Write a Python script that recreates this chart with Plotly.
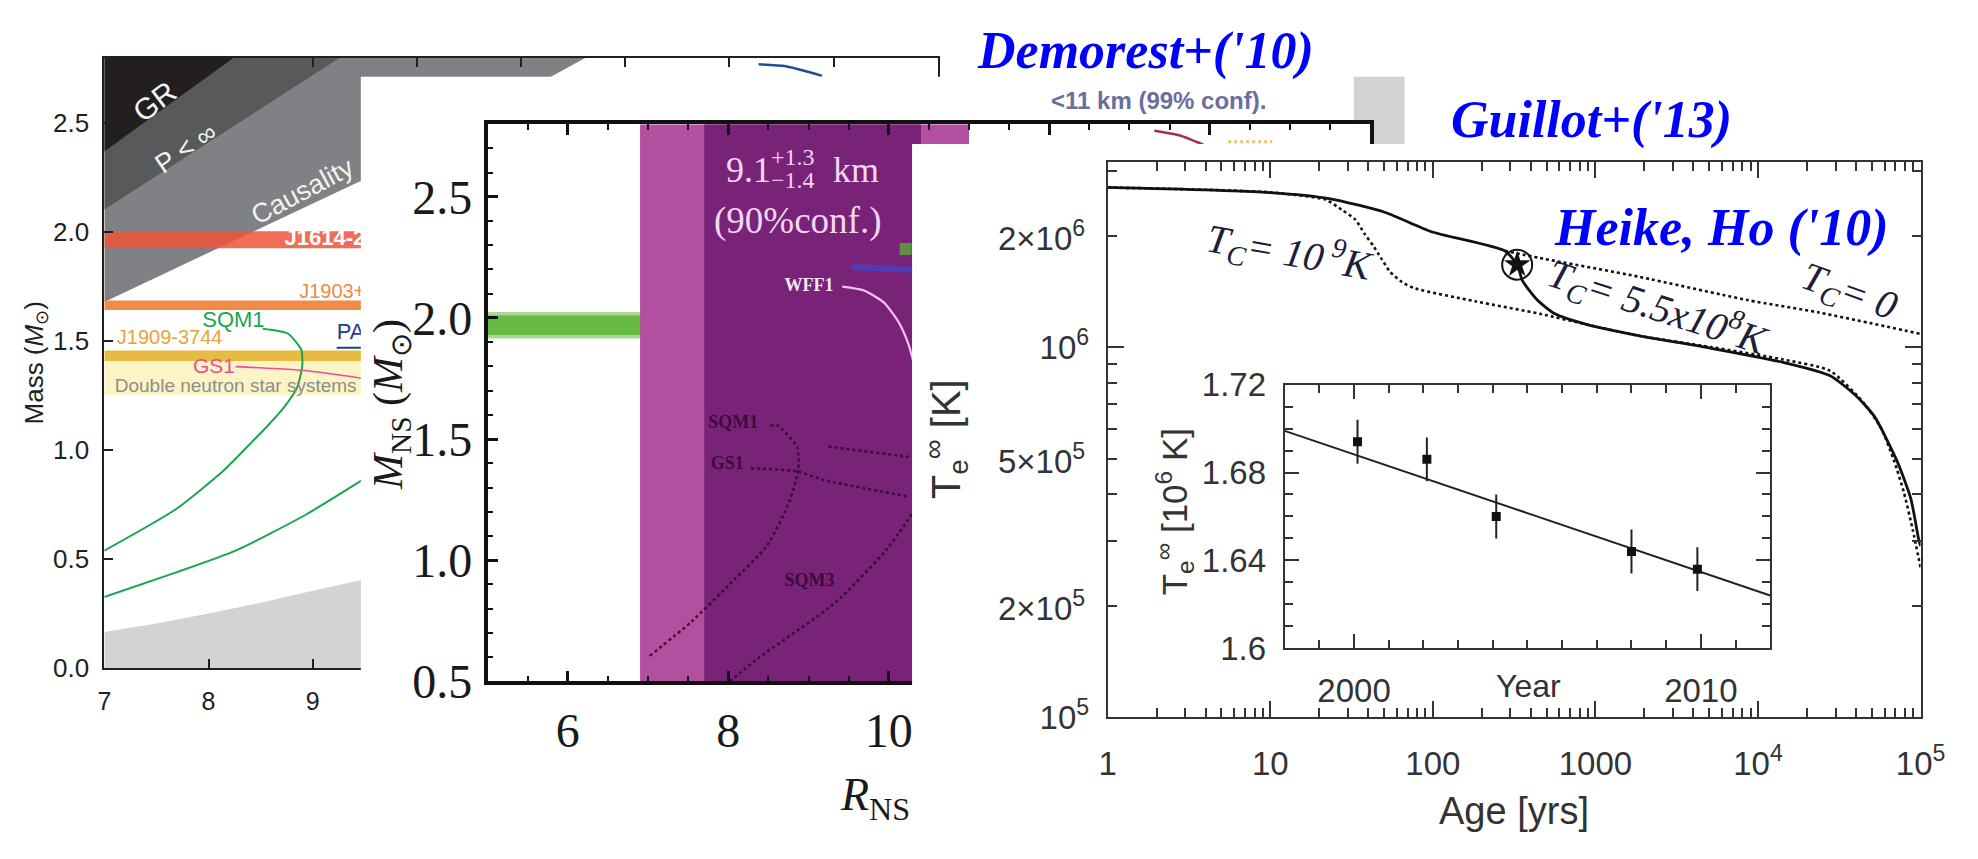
import math
import plotly.graph_objects as go

W, H = 1978, 859


def fx(p):
    return p / W


def fy(p):
    return 1 - p / H


SANS = "Liberation Sans"
SERIF = "Liberation Serif"

# ---------------- Demorest et al. (2010): mass-radius constraints ----------------
dem_R_range = [7.0, 15.0]
dem_M_range = [0.0, 2.8]
dem_gr_R = [7.0, 8.24]
dem_gr_M = [2.37, 2.80]
dem_buch_R = [7.0, 9.26]
dem_buch_M = [2.104, 2.80]
dem_caus_R = [7.0, 9.46, 11.62]
dem_caus_M = [1.68, 2.235, 2.80]
dem_rot_R = [7.0, 7.5, 8.0, 8.5, 9.0, 9.5, 10.0]
dem_rot_M = [0.165, 0.205, 0.250, 0.300, 0.355, 0.408, 0.465]

dem_band_lo = [1.252, 1.409, 1.643, 1.926]
dem_band_hi = [1.409, 1.457, 1.687, 2.004]
dem_band_col = ["#fcf4c4", "#e7bb42", "#f08c48", "rgba(238,86,58,0.86)"]

dem_sqm1_R = [7.0, 7.69, 8.14, 8.42, 8.57, 8.73, 8.85, 8.90, 8.89, 8.76, 8.52]
dem_sqm1_M = [0.539, 0.730, 0.904, 1.039, 1.113, 1.200, 1.287, 1.387, 1.461, 1.535, 1.557]
dem_sqm3_R = [7.0, 7.69, 8.26, 8.92, 9.47]
dem_sqm3_M = [0.326, 0.439, 0.539, 0.700, 0.861]
dem_gs1_R = [8.26, 8.92, 9.47]
dem_gs1_M = [1.383, 1.365, 1.330]
dem_pal1_R = [9.23, 9.60]
dem_pal1_M = [1.470, 1.470]
dem_ms_R = [13.28, 13.54, 13.89]
dem_ms_M = [2.770, 2.761, 2.717]

dem_xtick = [7, 8, 9, 10, 11, 12, 13, 14, 15]
dem_xtext = ["7", "8", "9", "", "", "", "", "", ""]

dem_lbl_text = ["<b>J1614-2230</b>", "J1903+0327", "J1909-3744", "SQM1", "GS1", "PAL1",
                "Double neutron star systems"]
dem_lbl_R = [8.73, 8.87, 7.12, 7.94, 7.85, 9.23, 7.10]
dem_lbl_M = [1.965, 1.722, 1.509, 1.591, 1.378, 1.535, 1.290]
dem_lbl_col = ["#ffffff", "#ef8a45", "#e6a53a", "#1aa64f", "#ea4f96", "#1d3c8c", "#8d8d8d"]
dem_lbl_size = [22, 20, 20, 22, 21, 22, 19]

# ---------------- Guillot et al. (2013): qLMXB radius ----------------
gui_R_range = [5.0, 16.0]
gui_M_range = [0.5, 2.8]
gui_R_med, gui_R_plus, gui_R_minus = 9.1, 1.3, 1.4
gui_R99 = [6.9, 11.0]
gui_j1614 = [1.93, 2.01]
gui_j1614_halo = [1.915, 2.025]

gui_xtick = [6, 8, 10, 12, 14, 16]
gui_xtext = ["6", "8", "10", "", "", ""]

gui_sqm1_R = [7.02, 7.54, 8.02, 8.48, 8.76, 8.87, 8.86, 8.62, 8.53]
gui_sqm1_M = [0.605, 0.746, 0.902, 1.059, 1.242, 1.371, 1.465, 1.555, 1.555]
gui_gs1_R = [8.28, 8.86, 9.18, 10.26]
gui_gs1_M = [1.379, 1.367, 1.332, 1.262]
gui_eos_R = [9.25, 10.26]
gui_eos_M = [1.469, 1.426]
gui_sqm3_R = [8.02, 8.35, 9.33, 9.98, 10.29]
gui_sqm3_M = [0.500, 0.590, 0.824, 1.047, 1.191]
gui_wff1_R = [9.42, 9.69, 9.94, 10.12, 10.25, 10.33]
gui_wff1_M = [2.129, 2.113, 2.063, 1.984, 1.887, 1.789]
gui_blue_R = [9.53, 10.30]
gui_blue_M = [2.210, 2.200]
gui_red_R = [13.31, 13.62, 13.92]
gui_red_M = [2.773, 2.754, 2.715]
gui_yel_R = [14.23, 14.78]
gui_yel_M = [2.727, 2.727]

gui_lbl_text = ["<b>SQM1</b>", "<b>GS1</b>", "<b>SQM3</b>", "<b>WFF1</b>"]
gui_lbl_R = [7.75, 7.78, 8.70, 8.70]
gui_lbl_M = [1.565, 1.395, 0.910, 2.130]
gui_lbl_col = ["#3b0c3b", "#3b0c3b", "#3b0c3b", "#f6e6f6"]

# ---------------- Heinke & Ho (2010): Cas A cooling ----------------
hh_age_solid = [1, 9.4, 23, 51, 98, 277, 330, 356, 439, 564, 891, 1840, 5150, 14260,
                27800, 39900, 52000, 71600, 87100, 97300, 100000]
hh_T_solid = [2.70e6, 2.62e6, 2.52e6, 2.31e6, 2.05e6, 1.82e6, 1.67e6, 1.51e6, 1.34e6,
              1.23e6, 1.15e6, 1.074e6, 9.93e5, 9.10e5, 8.37e5, 7.40e5, 6.50e5, 4.93e5,
              3.90e5, 3.03e5, 2.90e5]
hh_age_tc9 = [1, 9.9, 22, 27.5, 33.4, 37.8, 42.9, 48, 54.4, 64.3, 78, 182, 457, 891, 1840,
              5150, 14260, 27800, 45200, 57300, 68700, 78900, 89500, 100000]
hh_T_tc9 = [2.70e6, 2.62e6, 2.50e6, 2.35e6, 2.21e6, 2.03e6, 1.88e6, 1.74e6, 1.60e6, 1.50e6,
            1.44e6, 1.33e6, 1.23e6, 1.15e6, 1.074e6, 1.0e6, 9.26e5, 8.63e5, 7.03e5, 6.03e5,
            4.93e5, 4.06e5, 3.21e5, 2.54e5]
hh_age_tc0 = [277, 457, 1840, 8620, 23800, 100000]
hh_T_tc0 = [1.82e6, 1.74e6, 1.55e6, 1.34e6, 1.24e6, 1.086e6]
hh_casA_age = [330]
hh_casA_T = [1.67e6]

hh_xticks = [1, 10, 100, 1000, 1e4, 1e5]
hh_xtext = ["1", "10", "100", "1000", "10<sup>4</sup>", "10<sup>5</sup>"]
hh_yticks = [1e5, 1e6]
hh_ytext = ["10<sup>5</sup>", "10<sup>6</sup>"]
hh_ylabels_extra = [2e5, 5e5, 2e6]
hh_ytext_extra = ["2×10<sup>5</sup>", "5×10<sup>5</sup>", "2×10<sup>6</sup>"]

# inset: Chandra temperatures of Cas A
ins_year = [2000.1, 2002.1, 2004.1, 2008.0, 2009.9]
ins_T = [1.694, 1.686, 1.660, 1.644, 1.636]
ins_err = [0.010, 0.010, 0.010, 0.010, 0.010]
ins_fit_year = [1998.0, 2012.0]
ins_fit_T = [1.699, 1.624]

fig = go.Figure()


def add(tr, k):
    tr.xaxis = "x" if k == 1 else "x%d" % k
    tr.yaxis = "y" if k == 1 else "y%d" % k
    tr.hoverinfo = "skip"
    fig.add_trace(tr)


def poly(xs, ys, color, k):
    add(go.Scatter(x=xs, y=ys, mode="lines", fill="toself", fillcolor=color,
                   line=dict(width=0, color=color)), k)


def line(xs, ys, color, width, k, dash="solid"):
    add(go.Scatter(x=xs, y=ys, mode="lines",
                   line=dict(color=color, width=width, dash=dash, shape="spline", smoothing=0.6)), k)


# ----- panel 1 (subplot 1) -----
r0, r1 = dem_R_range
m1 = dem_M_range[1]
poly(dem_rot_R + [dem_rot_R[-1], dem_rot_R[0]], dem_rot_M + [0, 0], "#d1d3d4", 1)
poly(dem_caus_R + [r0], dem_caus_M + [m1], "#808184", 1)
poly(dem_buch_R + [r0], dem_buch_M + [m1], "#58595b", 1)
poly(dem_gr_R + [r0], dem_gr_M + [m1], "#231f20", 1)
for lo, hi, col in zip(dem_band_lo, dem_band_hi, dem_band_col):
    poly([r0, r1, r1, r0], [lo, lo, hi, hi], col, 1)
line(dem_sqm1_R, dem_sqm1_M, "#1aa64f", 2, 1)
line(dem_sqm3_R, dem_sqm3_M, "#1aa64f", 2, 1)
line(dem_gs1_R, dem_gs1_M, "#ea4f96", 1.6, 1)
line(dem_pal1_R, dem_pal1_M, "#1d3c8c", 2, 1)
line(dem_ms_R, dem_ms_M, "#1f4d90", 2.5, 1)
add(go.Scatter(x=dem_lbl_R, y=dem_lbl_M, mode="text", text=dem_lbl_text,
               textposition="middle right",
               textfont=dict(family=SANS, size=dem_lbl_size, color=dem_lbl_col)), 1)

# ----- white card of the second figure (subplot 2) -----
card = [0, 1, 1, 0]
poly(card, [0, 0, 1, 1], "#ffffff", 2)

# ----- panel 2 (subplot 3) -----
g0, g1 = gui_R_range
gm0, gm1 = gui_M_range
poly([g0, g1, g1, g0], [gui_j1614_halo[0]] * 2 + [gui_j1614_halo[1]] * 2, "#a9d794", 3)
poly([g0, g1, g1, g0], [gui_j1614[0]] * 2 + [gui_j1614[1]] * 2, "#67bb44", 3)
poly([gui_R99[0], gui_R99[1], gui_R99[1], gui_R99[0]], [gm0, gm0, gm1, gm1], "#b24f9e", 3)
rlo, rhi = gui_R_med - gui_R_minus, gui_R_med + gui_R_plus
poly([rlo, rhi, rhi, rlo], [gm0, gm0, gm1, gm1], "#782378", 3)
line(gui_sqm1_R, gui_sqm1_M, "#3a0a3a", 2.5, 3, "dot")
line(gui_gs1_R, gui_gs1_M, "#3a0a3a", 2.5, 3, "dot")
line(gui_eos_R, gui_eos_M, "#3a0a3a", 2.5, 3, "dot")
line(gui_sqm3_R, gui_sqm3_M, "#3a0a3a", 2.5, 3, "dot")
line(gui_wff1_R, gui_wff1_M, "#f4c4f0", 2.2, 3)
line(gui_blue_R, gui_blue_M, "rgba(60,70,210,0.65)", 6, 3)
line(gui_red_R, gui_red_M, "#a3304c", 2.5, 3)
line(gui_yel_R, gui_yel_M, "#e3c46a", 3, 3, "dot")
add(go.Scatter(x=[10.21], y=[2.285], mode="markers",
               marker=dict(symbol="square", size=12, color="#5f8f45")), 3)
add(go.Scatter(x=gui_lbl_R, y=gui_lbl_M, mode="text", text=gui_lbl_text,
               textposition="middle right",
               textfont=dict(family=SERIF, size=18, color=gui_lbl_col)), 3)

# ----- white card of the third figure (subplot 4) -----
poly(card, [0, 0, 1, 1], "#ffffff", 4)

# ----- panel 3 (subplot 5) -----
line(hh_age_tc9, hh_T_tc9, "#111111", 2.6, 5, "dot")
line(hh_age_tc0, hh_T_tc0, "#111111", 2.6, 5, "dot")
line(hh_age_solid, hh_T_solid, "#111111", 2.8, 5)
add(go.Scatter(x=hh_casA_age, y=hh_casA_T, mode="markers",
               marker=dict(symbol="circle-open", size=30, color="#111111", line=dict(width=2))), 5)
add(go.Scatter(x=hh_casA_age, y=hh_casA_T, mode="markers",
               marker=dict(symbol="star", size=20, color="#111111")), 5)

# ----- inset (subplot 6) -----
add(go.Scatter(x=ins_fit_year, y=ins_fit_T, mode="lines", line=dict(color="#222222", width=2)), 6)
add(go.Scatter(x=ins_year, y=ins_T, mode="markers",
               marker=dict(symbol="square", size=9, color="#111111"),
               error_y=dict(type="data", array=ins_err, color="#222222", thickness=2, width=0)), 6)

# ---------------- axes ----------------
def hidden(dom_x, dom_y, k):
    return {
        "xaxis%d" % k: dict(domain=dom_x, range=[0, 1], visible=False, anchor="y%d" % k,
                            fixedrange=True),
        "yaxis%d" % k: dict(domain=dom_y, range=[0, 1], visible=False, anchor="x%d" % k,
                            fixedrange=True),
    }


c1 = "#231f20"
axes = dict(
    xaxis=dict(domain=[fx(97), fx(945)], range=dem_R_range, anchor="y",
               tickvals=dem_xtick, ticktext=dem_xtext,
               ticks="inside", ticklen=9, tickwidth=1.6, tickcolor=c1,
               showline=True, linewidth=2, linecolor=c1, mirror="ticks",
               showgrid=False, zeroline=False, ticklabelstandoff=10,
               tickfont=dict(family=SANS, size=25, color=c1)),
    yaxis=dict(domain=[fy(686), fy(42)], range=dem_M_range, anchor="x",
               tickvals=[0, 0.5, 1.0, 1.5, 2.0, 2.5],
               ticktext=["0.0", "0.5", "1.0", "1.5", "2.0", "2.5"],
               ticks="inside", ticklen=9, tickwidth=1.6, tickcolor=c1,
               showline=True, linewidth=2, linecolor=c1, mirror="ticks",
               showgrid=False, zeroline=False, ticklabelstandoff=8,
               tickfont=dict(family=SANS, size=26, color=c1)),
    xaxis3=dict(domain=[fx(487), fx(1385)], range=gui_R_range, anchor="y3",
                tickvals=gui_xtick, ticktext=gui_xtext, ticks="inside", ticklen=11,
                tickwidth=2.5, tickcolor="#111111",
                minor=dict(dtick=0.5, tick0=5, ticks="inside", ticklen=6,
                           tickwidth=2, tickcolor="#111111"),
                showline=True, linewidth=3.5, linecolor="#111111", mirror="ticks",
                showgrid=False, zeroline=False, ticklabelstandoff=4,
                tickfont=dict(family=SERIF, size=48, color="#1a1a1a")),
    yaxis3=dict(domain=[fy(700), fy(112)], range=gui_M_range, anchor="x3",
                tickvals=[0.5, 1.0, 1.5, 2.0, 2.5], ticktext=["0.5", "1.0", "1.5", "2.0", "2.5"],
                ticks="inside", ticklen=11, tickwidth=2.5, tickcolor="#111111",
                minor=dict(dtick=0.1, tick0=0.5, ticks="inside", ticklen=6, tickwidth=2,
                           tickcolor="#111111"),
                showline=True, linewidth=3.5, linecolor="#111111", mirror="ticks",
                showgrid=False, zeroline=False, ticklabelstandoff=2,
                tickfont=dict(family=SERIF, size=48, color="#1a1a1a")),
    xaxis5=dict(domain=[fx(1118), fx(1945)], type="log", range=[0, 5], anchor="y5",
                tickvals=hh_xticks, ticktext=hh_xtext, ticks="inside", ticklen=16, tickwidth=2,
                tickcolor="#333333",
                minor=dict(tickvals=[m * 10 ** d for d in range(0, 5) for m in range(2, 10)],
                           ticks="inside", ticklen=9, tickwidth=1.6, tickcolor="#333333"),
                showline=True, linewidth=2, linecolor="#333333", mirror="ticks",
                showgrid=False, zeroline=False, ticklabelstandoff=16,
                tickfont=dict(family=SANS, size=33, color="#333333")),
    yaxis5=dict(domain=[fy(738), fy(152)], type="log", range=[5, 6.5], anchor="x5",
                tickvals=hh_yticks, ticktext=hh_ytext, ticks="inside", ticklen=16, tickwidth=2,
                tickcolor="#333333",
                minor=dict(tickvals=[m * 10 ** d for d in range(5, 7) for m in range(2, 10)],
                           ticks="inside", ticklen=9, tickwidth=1.6, tickcolor="#333333"),
                showline=True, linewidth=2, linecolor="#333333", mirror="ticks",
                showgrid=False, zeroline=False, ticklabelstandoff=10,
                tickfont=dict(family=SANS, size=33, color="#333333")),
    xaxis6=dict(domain=[fx(1298), fx(1792)], range=[1998, 2012], anchor="y6",
                tickvals=[2000, 2010], ticks="inside", ticklen=14, tickwidth=2,
                tickcolor="#333333",
                minor=dict(dtick=1, tick0=1998, ticks="inside", ticklen=8, tickwidth=1.6,
                           tickcolor="#333333"),
                showline=True, linewidth=2, linecolor="#333333", mirror="ticks",
                showgrid=False, zeroline=False, ticklabelstandoff=12,
                tickfont=dict(family=SANS, size=33, color="#333333")),
    yaxis6=dict(domain=[fy(665), fy(387)], range=[1.6, 1.72], anchor="x6",
                tickvals=[1.6, 1.64, 1.68, 1.72], ticktext=["1.6", "1.64", "1.68", "1.72"],
                ticks="inside", ticklen=14, tickwidth=2, tickcolor="#333333",
                minor=dict(dtick=0.01, tick0=1.6, ticks="inside", ticklen=8, tickwidth=1.6,
                           tickcolor="#333333"),
                showline=True, linewidth=2, linecolor="#333333", mirror="ticks",
                showgrid=False, zeroline=False, ticklabelstandoff=10,
                tickfont=dict(family=SANS, size=33, color="#333333")),
)
axes.update(hidden([fx(358), fx(1368)], [0, fy(62)], 2))
axes.update(hidden([fx(919), 1.0], [0, fy(133)], 4))


def ann(text, x, y, size, color, family, angle=0, xanchor="center", yanchor="middle"):
    return dict(text=text, x=fx(x), y=fy(y), xref="paper", yref="paper", showarrow=False,
                font=dict(size=size, color=color, family=family), textangle=angle,
                xanchor=xanchor, yanchor=yanchor)


BLUE = "#0000ff"
INK = "#1b2038"
PINK = "#f3d6ef"
annotations = [
    # panel 1
    ann("Mass (<i>M</i><sub>⊙</sub>)", 27, 364, 26, c1, SANS, -90),
    ann("GR", 148, 88, 30, "#f2f2f2", SANS, -37),
    ann("P < ∞", 180, 137, 27, "#f2f2f2", SANS, -34),
    ann("Causality", 299, 183, 27, "#f2f2f2", SANS, -28),
    # panel 2
    ann("<i>M</i><sub>NS</sub> (<i>M</i><sub>⊙</sub>)", 388, 408, 42, "#1a1a1a", SERIF, -90),
    ann("<i>R</i><sub>NS</sub>", 919, 823, 46, "#1a1a1a", SERIF, 0, "right"),
    ann("9.1", 727, 160, 36, PINK, SERIF, 0, "left"),
    ann("+1.3", 773, 147, 24, PINK, SERIF, 0, "left"),
    ann("−1.4", 773, 171, 24, PINK, SERIF, 0, "left"),
    ann("km", 836, 160, 36, PINK, SERIF, 0, "left"),
    ann("(90%conf.)", 802, 214, 37, PINK, SERIF),
    ann("<b>&lt;11 km (99% conf).</b>", 1170, 87, 24, "#6a6e9e", SANS),
    # panel 3
    ann("T<sub>e</sub><sup>∞</sup> [K]", 953, 445, 40, "#333333", SANS, -90),
    ann("Age [yrs]", 1531, 837, 38, "#333333", SANS),
    ann("<i>T</i><sub><i>C</i></sub><i>= 10</i><sup><i> 9</i></sup><i>K</i>",
        1303, 247, 40, INK, SERIF, 10),
    ann("<i>T</i><sub><i>C</i></sub><i>= 5.5x10</i><sup><i>8</i></sup><i>K</i>",
        1678, 305, 40, INK, SERIF, 18),
    ann("<i>T</i><sub><i>C</i></sub><i>= 0</i>", 1872, 290, 40, INK, SERIF, 20),
    # inset
    ann("T<sub>e</sub><sup>∞</sup> [10<sup>6</sup> K]", 1186, 521, 35, "#333333", SANS, -90),
    ann("Year", 1546, 705, 32, "#333333", SANS),
    # references
    ann("<b><i>Demorest+('10)</i></b>", 1156, 35, 52, BLUE, SERIF),
    ann("<b><i>Guillot+('13)</i></b>", 1610, 108, 52, BLUE, SERIF),
    ann("<b><i>Heike, Ho ('10)</i></b>", 1742, 222, 52, BLUE, SERIF),
]
for val, txt in zip(hh_ylabels_extra, hh_ytext_extra):
    annotations.append(dict(text=txt, x=fx(1097), y=math.log10(val), xref="paper", yref="y5",
                            showarrow=False, xanchor="right", yanchor="middle",
                            font=dict(size=33, color="#333333", family=SANS)))

shapes = [
    dict(type="rect", xref="paper", yref="paper", x0=fx(1368), x1=fx(1420), y0=fy(133),
         y1=fy(62), fillcolor="#d2d2d2", line=dict(width=0), layer="below"),
]

fig.update_layout(
    width=W, height=H, margin=dict(l=0, r=0, t=0, b=0),
    paper_bgcolor="white", plot_bgcolor="white", showlegend=False,
    annotations=annotations, shapes=shapes, **axes,
)

# the page holds only this figure: drop the default body margin so it fills the window
fig.write_html("out.html", config={"displayModeBar": False},
               post_script="document.body.style.margin='0';"
                           "document.body.style.overflow='hidden';")
